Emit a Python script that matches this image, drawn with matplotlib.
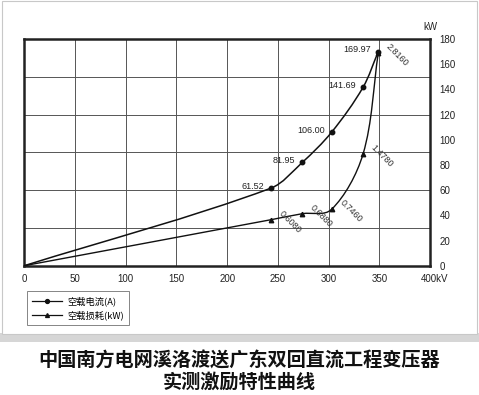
import matplotlib
matplotlib.use("Agg")
from matplotlib import pyplot as plt
from matplotlib.lines import Line2D
from matplotlib.patches import Rectangle, PathPatch
from matplotlib.path import Path
import matplotlib.transforms as mtransforms
import numpy as np

plt.rcParams['font.family'] = ['Liberation Sans', 'Noto Sans CJK SC', 'DejaVu Sans']

# measured data
voltage = [0, 243, 274, 303, 334, 349]              # kV
current = [0, 61.52, 81.95, 106.00, 141.69, 169.97]  # A
loss = [0, 0.6080, 0.6880, 0.7460, 1.4780, 2.8160]   # kW
loss_scale = 60  # loss curve drawn on the same axis

x_ticks = [0, 50, 100, 150, 200, 250, 300, 350, 400]
x_labels = ["0", "50", "100", "150", "200", "250", "300", "350", "400kV"]
y_ticks = [0, 20, 40, 60, 80, 100, 120, 140, 160, 180]

title = "中国南方电网溪洛渡送广东双回直流工程变压器\n实测激励特性曲线"


def smooth_path(xs, ys):
    # bezier line through the measured points (chord-length tangents)
    p = np.column_stack([xs, ys]).astype(float)
    d = np.hypot(*np.diff(p, axis=0).T)
    n = len(p)
    m = np.zeros_like(p)
    m[0] = (p[1] - p[0]) / d[0]
    m[-1] = (p[-1] - p[-2]) / d[-1]
    for k in range(1, n - 1):
        m[k] = (p[k + 1] - p[k - 1]) / (d[k - 1] + d[k])
    verts = [p[0]]
    codes = [Path.MOVETO]
    for i in range(n - 1):
        verts += [p[i] + m[i] * d[i] / 3, p[i + 1] - m[i + 1] * d[i] / 3, p[i + 1]]
        codes += [Path.CURVE4] * 3
    return Path(verts, codes)


fig = plt.figure(figsize=(4.79, 3.95), dpi=100)

# white panel with grey border and shadow
fig.patches.append(Rectangle((0.0, 1 - 342 / 395), 1.0, 9 / 395, transform=fig.transFigure,
                             fc="#d6d6d6", ec="none", zorder=-3))
fig.patches.append(Rectangle((0.004, 1 - 334 / 395), 0.992, 333 / 395, transform=fig.transFigure,
                             fc="white", ec="#c8c8c8", lw=0.8, zorder=-2))

ax = fig.add_axes([24.3 / 479, 1 - 265.7 / 395, (430 - 24.3) / 479, (265.7 - 39) / 395])
ax.set_xlim(0, 400)
ax.set_ylim(0, 180)

# grid: vertical every 50, horizontal every 30
for gx in range(50, 400, 50):
    ax.axvline(gx, color="#555555", lw=0.7, zorder=0)
for gy in range(30, 180, 30):
    ax.axhline(gy, color="#555555", lw=0.7, zorder=0)

for s in ax.spines.values():
    s.set_linewidth(1.8)
    s.set_color("#222222")

ax.set_xticks(x_ticks)
ax.set_xticklabels(x_labels)
ax.yaxis.tick_right()
ax.set_yticks(y_ticks)
ax.tick_params(axis="both", length=0, labelsize=7, colors="#222222")
ax.tick_params(axis="x", pad=6)
ax.tick_params(axis="y", pad=7)
last = ax.get_xticklabels()[-1]
last.set_transform(last.get_transform() + mtransforms.ScaledTranslation(5 / 100, 0, fig.dpi_scale_trans))

ax.text(1.0, 1.03, "kW", transform=ax.transAxes, ha="center", va="bottom", fontsize=7, color="#222222")

loss_plot = [v * loss_scale for v in loss]

ax.add_patch(PathPatch(smooth_path(voltage, current), fc="none", ec="#111111", lw=1.1, zorder=3))
ax.add_patch(PathPatch(smooth_path(voltage, loss_plot), fc="none", ec="#111111", lw=1.0, zorder=3))
ax.plot(voltage[1:], current[1:], ls="none", color="#111111", marker="o", ms=3.2, zorder=4, clip_on=False)
ax.plot(voltage[1:], loss_plot[1:], ls="none", color="#111111", marker="^", ms=3.2, zorder=4, clip_on=False)

for xv, yv in zip(voltage[1:], current[1:]):
    ax.annotate(f"{yv:.2f}", (xv, yv), xytext=(-5, 1.5), textcoords="offset points",
                ha="right", va="center", fontsize=6.5, color="#222222")

for xv, yv, lv in zip(voltage[1:], loss_plot[1:], loss[1:]):
    ax.annotate(f"{lv:.4f}", (xv, yv), xytext=(9, 8), textcoords="offset points",
                ha="left", va="top", fontsize=6.5, color="#333333", rotation=-45,
                rotation_mode="anchor")

handles = [Line2D([], [], color="#111111", lw=0.9, marker="o", ms=2.8),
           Line2D([], [], color="#111111", lw=0.9, marker="^", ms=2.8)]
leg = fig.legend(handles, ["空载电流(A)", "空载损耗(kW)"], loc="upper left",
                 bbox_to_anchor=(27 / 479, 1 - 291 / 395), fancybox=False,
                 handlelength=3.2, handletextpad=0.6, labelspacing=0.45, borderpad=0.55,
                 borderaxespad=0, prop={'family': ['Noto Sans CJK SC'], 'size': 6.7})
leg.get_frame().set_edgecolor("#666666")
leg.get_frame().set_linewidth(0.7)

fig.text(0.5, 1 - 371.5 / 395, title, ha="center", va="center", fontsize=13.8, fontweight="bold",
         family=["Noto Sans CJK SC"], color="#111111", linespacing=1.2)

fig.savefig("out.png", dpi=100)
